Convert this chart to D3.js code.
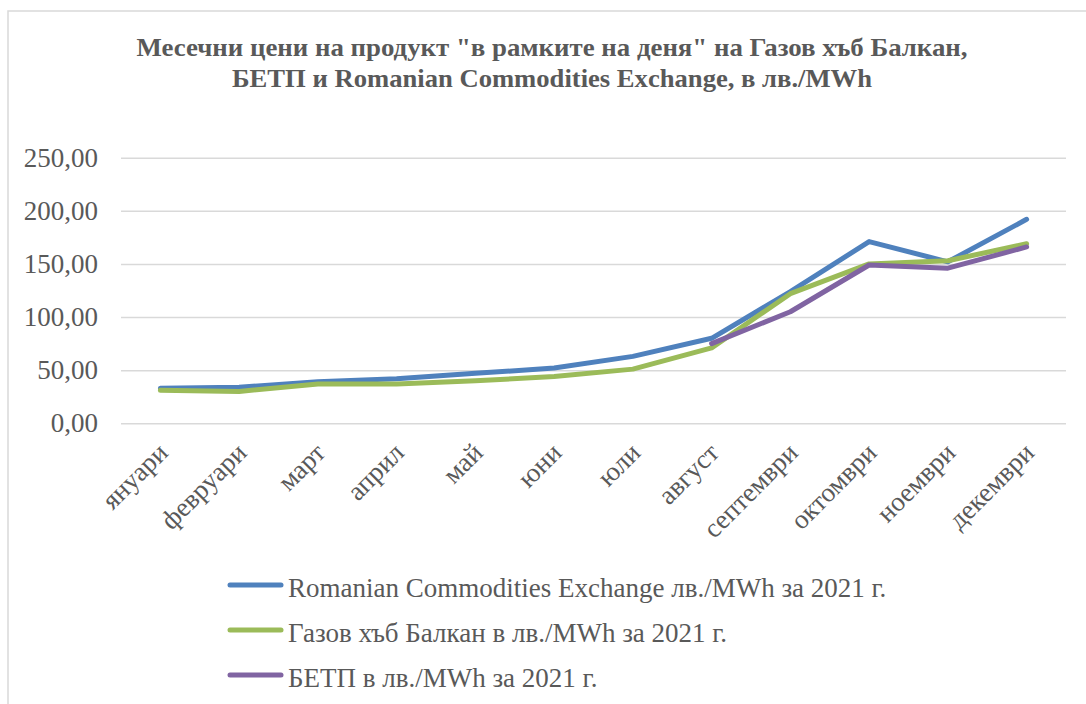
<!DOCTYPE html>
<html>
<head>
<meta charset="utf-8">
<script src="https://cdnjs.cloudflare.com/ajax/libs/d3/7.8.5/d3.min.js"></script>
<style>
  body { margin: 0; background: #fff; }
  text { font-family: "Liberation Serif", "Times New Roman", serif; fill: #595959; }
</style>
</head>
<body>
<div class="chart"></div>
<script>
var svgWidth = 1086;
var svgHeight = 704;

// data
var months = ["януари", "февруари", "март", "април", "май", "юни", "юли",
  "август", "септември", "октомври", "ноември", "декември"];
var rceValues = [33, 34, 39, 42, 47, 52, 63, 80, 124, 171, 152, 192];
var gasHubValues = [31, 30, 37, 37, 40, 44, 51, 71, 122, 150, 153, 169];
var betpValues = [null, null, null, null, null, null, null, 75, 105, 149, 146, 166];
var yTicks = [0, 50, 100, 150, 200, 250];

var seriesNames = [
  "Romanian Commodities Exchange лв./MWh за 2021 г.",
  "Газов хъб Балкан в лв./MWh за 2021 г.",
  "БЕТП в лв./MWh за 2021 г."
];
var seriesColors = ["#4f81bd", "#9bbb59", "#8064a2"];
var titleLines = [
  "Месечни цени на продукт \"в рамките на деня\" на Газов хъб Балкан,",
  "БЕТП и Romanian Commodities Exchange, в лв./MWh"
];

var plot = { left: 121, right: 1066, top: 157.7, bottom: 423.3 };

var svg = d3.select(".chart")
  .append("svg")
  .attr("width", svgWidth)
  .attr("height", svgHeight);

// chart area border (runs off the right and bottom edges)
svg.append("rect")
  .attr("x", 8)
  .attr("y", 11)
  .attr("width", 1100)
  .attr("height", 720)
  .attr("fill", "none")
  .attr("stroke", "#d9d9d9")
  .attr("stroke-width", 1.5);

// title
svg.append("g").selectAll("text")
  .data(titleLines)
  .enter()
  .append("text")
  .attr("x", 552)
  .attr("y", (d, i) => 56 + i * 31)
  .attr("text-anchor", "middle")
  .attr("font-size", 26)
  .attr("font-weight", "bold")
  .attr("textLength", (d, i) => i === 0 ? 831 : 640)
  .attr("lengthAdjust", "spacingAndGlyphs")
  .text(d => d);

// scales
var xScale = d3.scaleBand()
  .domain(months)
  .range([plot.left, plot.right]);

var yScale = d3.scaleLinear()
  .domain([0, 250])
  .range([plot.bottom, plot.top]);

var xPos = d => xScale(d) + xScale.bandwidth() / 2;

// gridlines + y labels via axis
var leftAxis = d3.axisLeft(yScale)
  .tickValues(yTicks)
  .tickSize(-(plot.right - plot.left))
  .tickPadding(23)
  .tickFormat(d => d3.format(".2f")(d).replace(".", ","));

var yAxis = svg.append("g")
  .attr("transform", `translate(${plot.left},0)`)
  .call(leftAxis);

yAxis.select(".domain").remove();
yAxis.selectAll("line")
  .attr("stroke", "#d9d9d9")
  .attr("stroke-width", 1.5);
yAxis.selectAll("text")
  .attr("font-size", 27)
  .attr("fill", "#595959")
  .attr("font-family", "Liberation Serif, serif");

// x labels, rotated
var bottomAxis = d3.axisBottom(xScale).tickSize(0).tickPadding(0);
var xAxis = svg.append("g")
  .attr("transform", `translate(0,${plot.bottom})`)
  .call(bottomAxis);

xAxis.select(".domain").remove();
xAxis.selectAll("text")
  .attr("font-size", 27)
  .attr("fill", "#595959")
  .attr("font-family", "Liberation Serif, serif")
  .attr("text-anchor", "end")
  .attr("dy", 0)
  .attr("y", 0)
  .attr("transform", "translate(9,31) rotate(-45)");

// lines
var allSeries = [rceValues, gasHubValues, betpValues];

var line = d3.line()
  .defined(d => d.v !== null)
  .x(d => xPos(d.m))
  .y(d => yScale(d.v));

svg.append("g").selectAll("path")
  .data(allSeries)
  .enter()
  .append("path")
  .attr("d", vals => line(vals.map((v, i) => ({ m: months[i], v: v }))))
  .attr("fill", "none")
  .attr("stroke", (d, i) => seriesColors[i])
  .attr("stroke-width", 5)
  .attr("stroke-linejoin", "round")
  .attr("stroke-linecap", "round");

// legend
var legend = svg.append("g").selectAll("g")
  .data(seriesNames)
  .enter()
  .append("g")
  .attr("transform", (d, i) => `translate(0,${585 + i * 45})`);

legend.append("line")
  .attr("x1", 230)
  .attr("x2", 281)
  .attr("stroke", (d, i) => seriesColors[i])
  .attr("stroke-width", 5)
  .attr("stroke-linecap", "round");

legend.append("text")
  .attr("x", 288)
  .attr("y", 12)
  .attr("font-size", 27)
  .text(d => d);
</script>
</body>
</html>
